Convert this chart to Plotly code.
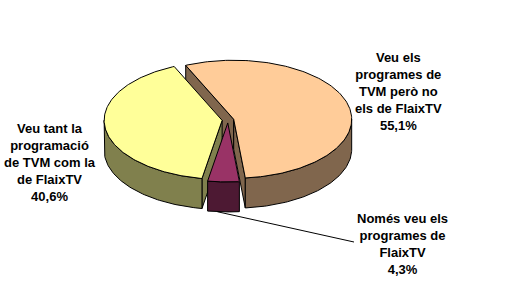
import numpy as np
import plotly.graph_objects as go

# ---- data ----
labels = ["Veu els programes de TVM però no els de FlaixTV",
          "Només veu els programes de FlaixTV",
          "Veu tant la programació de TVM com la de FlaixTV"]
values = [55.1, 4.3, 40.6]
label_texts = ["Veu els<br>programes de<br>TVM però no<br>els de FlaixTV<br>55,1%",
               "Només veu els<br>programes de<br>FlaixTV<br>4,3%",
               "Veu tant la<br>programació<br>de TVM com la<br>de FlaixTV<br>40,6%"]

# ---- style ----
top_colors = ["#FFCC99", "#993366", "#FFFF99"]
side_colors = ["#80664D", "#4D1933", "#80804D"]
label_pos = [(398, 91.5), (402, 243.5), (50, 162.5)]
start_angle = -24.0   # degrees, clockwise from 12 o'clock
cx, cy, A, B, depth = 228.0, 120.0, 118.0, 59.0, 30.0
explode = 0.05
draw_order = [0, 2, 1]
leader_end = (354, 242)

total = sum(values)
angles = []
a0 = start_angle
for v in values:
    a1 = a0 + v / total * 360.0
    angles.append((a0, a1))
    a0 = a1


def pt(ox, oy, th, down=0.0):
    r = np.radians(th)
    return ox + A * np.sin(r), oy - B * np.cos(r) + down


fig = go.Figure()


def add_poly(xs, ys, color):
    fig.add_trace(go.Scatter(x=list(xs) + [xs[0]], y=list(ys) + [ys[0]], mode="lines",
                             fill="toself", fillcolor=color,
                             line=dict(color="black", width=1),
                             hoverinfo="skip", showlegend=False))


centers = []
for i, (s, e) in enumerate(angles):
    m = np.radians((s + e) / 2)
    centers.append((cx + explode * A * np.sin(m), cy - explode * B * np.cos(m)))

for i in draw_order:
    s, e = angles[i]
    ox, oy = centers[i]
    # radial cut faces
    for th, vis in ((s, np.sin(np.radians(s)) < 0), (e, np.sin(np.radians(e)) > 0)):
        if vis:
            rx, ry = pt(ox, oy, th)
            add_poly([ox, rx, rx, ox], [oy, ry, ry + depth, oy + depth], side_colors[i])
    # outer wall (front half)
    lo, hi = max(s, 90.0), min(e, 270.0)
    if hi > lo:
        ts = np.linspace(lo, hi, 80)
        xt, yt = pt(ox, oy, ts)
        xb, yb = pt(ox, oy, ts[::-1], depth)
        add_poly(np.concatenate([xt, xb]), np.concatenate([yt, yb]), side_colors[i])
    # top face
    ts = np.linspace(s, e, 160)
    xt, yt = pt(ox, oy, ts)
    add_poly(np.concatenate([[ox], xt]), np.concatenate([[oy], yt]), top_colors[i])

# leader line for the small slice
s, e = angles[1]
ox, oy = centers[1]
lx, ly = pt(ox, oy, (s + e) / 2 + 3, depth)
fig.add_trace(go.Scatter(x=[lx, leader_end[0]], y=[ly, leader_end[1]], mode="lines",
                         line=dict(color="black", width=1), hoverinfo="skip", showlegend=False))

for txt, (x, y) in zip(label_texts, label_pos):
    fig.add_annotation(x=x, y=y, xref="x", yref="y", text="<b>" + txt + "</b>",
                       showarrow=False, xanchor="center", yanchor="middle", align="center",
                       font=dict(family="Liberation Sans, Arial, sans-serif", size=13, color="black"))

fig.update_layout(width=530, height=288, margin=dict(l=0, r=0, t=0, b=0),
                  paper_bgcolor="white", plot_bgcolor="white",
                  xaxis=dict(range=[0, 530], visible=False, fixedrange=True),
                  yaxis=dict(range=[288, 0], visible=False, fixedrange=True))
fig.write_html("out.html")
